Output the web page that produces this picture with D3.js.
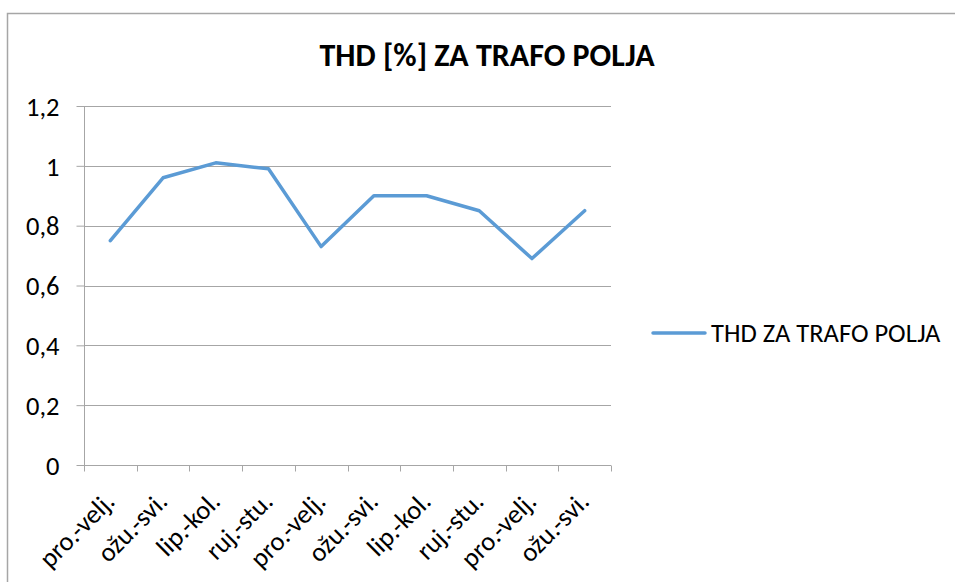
<!DOCTYPE html>
<html>
<head>
<meta charset="utf-8">
<script src="https://cdn.jsdelivr.net/npm/d3@7"></script>
<style>
  html, body { margin: 0; padding: 0; background: #fff; }
  svg { display: block; }
  text { font-family: Carlito, "Liberation Sans", Arial, sans-serif; fill: #000; }
</style>
</head>
<body>
<svg id="chart" width="955" height="582"></svg>
<script>
// Measurement periods and THD values (%)
const categories = ["pro.-velj.", "ožu.-svi.", "lip.-kol.", "ruj.-stu.", "pro.-velj.",
                    "ožu.-svi.", "lip.-kol.", "ruj.-stu.", "pro.-velj.", "ožu.-svi."];
const thdValues = [0.75, 0.96, 1.01, 0.99, 0.73, 0.90, 0.90, 0.85, 0.69, 0.85];
const yTicks = [0, 0.2, 0.4, 0.6, 0.8, 1.0, 1.2];
const yTickLabels = ["0", "0,2", "0,4", "0,6", "0,8", "1", "1,2"];
const chartTitle = "THD [%] ZA TRAFO POLJA";
const seriesName = "THD ZA TRAFO POLJA";

const svg = d3.select("#chart");
const plot = { left: 84, right: 611, top: 106, bottom: 465 };
const axisFont = 26.5;

// Outer chart frame
svg.append("rect")
  .attr("x", 7.5).attr("y", 13.5)
  .attr("width", 1000).attr("height", 1000)
  .attr("fill", "#fff").attr("stroke", "#a6a6a6").attr("stroke-width", 1.5);

// Scales
const idx = categories.map((d, i) => i);
const x = d3.scaleBand().domain(idx).range([plot.left, plot.right]).paddingInner(0).paddingOuter(0);
const y = d3.scaleLinear().domain([0, 1.2]).range([plot.bottom, plot.top]);

// Horizontal gridlines
svg.append("g")
  .selectAll("line")
  .data(yTicks.filter(d => d > 0))
  .join("line")
  .attr("x1", plot.left).attr("x2", plot.right)
  .attr("y1", d => Math.round(y(d)) + 0.5).attr("y2", d => Math.round(y(d)) + 0.5)
  .attr("stroke", "#a6a6a6").attr("stroke-width", 1);

// Y axis
const yAxis = svg.append("g")
  .attr("transform", `translate(${plot.left + 0.5},0)`)
  .call(d3.axisLeft(y).tickValues(yTicks).tickSize(8).tickPadding(17)
    .tickFormat((d, i) => yTickLabels[i]));
yAxis.select(".domain").attr("stroke", "#a6a6a6").attr("d", `M0,${plot.top}V${plot.bottom}`);
yAxis.selectAll(".tick line").attr("stroke", "#a6a6a6");
yAxis.selectAll(".tick text").attr("font-size", axisFont).attr("font-family", null).attr("dy", "0.35em");

// X axis with tick marks at band boundaries
const xAxisG = svg.append("g").attr("transform", `translate(0,${Math.round(plot.bottom) + 0.5})`);
xAxisG.append("line")
  .attr("x1", plot.left).attr("x2", plot.right)
  .attr("stroke", "#a6a6a6");
xAxisG.selectAll("line.tk")
  .data(idx.concat([categories.length]))
  .join("line")
  .attr("class", "tk")
  .attr("x1", d => Math.round(d < categories.length ? x(d) : plot.right) + 0.5)
  .attr("x2", d => Math.round(d < categories.length ? x(d) : plot.right) + 0.5)
  .attr("y1", 0).attr("y2", 6)
  .attr("stroke", "#a6a6a6");

// Rotated category labels
svg.append("g")
  .selectAll("text")
  .data(categories)
  .join("text")
  .attr("text-anchor", "end")
  .attr("font-size", axisFont)
  .attr("transform", (d, i) => `translate(${x(i) + x.bandwidth() / 2 + 6},${plot.bottom + 38}) rotate(-45)`)
  .text(d => d);

// Data line
const line = d3.line()
  .x((d, i) => x(i) + x.bandwidth() / 2)
  .y(d => y(d));
svg.append("path")
  .datum(thdValues)
  .attr("d", line)
  .attr("fill", "none")
  .attr("stroke", "#5b9bd5")
  .attr("stroke-width", 3.5)
  .attr("stroke-linejoin", "round")
  .attr("stroke-linecap", "round");

// Title
svg.append("text")
  .attr("x", 487).attr("y", 66)
  .attr("text-anchor", "middle")
  .attr("font-size", 32).attr("font-weight", "bold")
  .text(chartTitle);

// Legend
const lg = svg.append("g");
lg.append("line")
  .attr("x1", 653).attr("x2", 705).attr("y1", 333).attr("y2", 333)
  .attr("stroke", "#5b9bd5").attr("stroke-width", 3.5).attr("stroke-linecap", "round");
lg.append("text")
  .attr("x", 711).attr("y", 333).attr("dy", "0.35em")
  .attr("font-size", axisFont)
  .text(seriesName);
</script>
</body>
</html>
